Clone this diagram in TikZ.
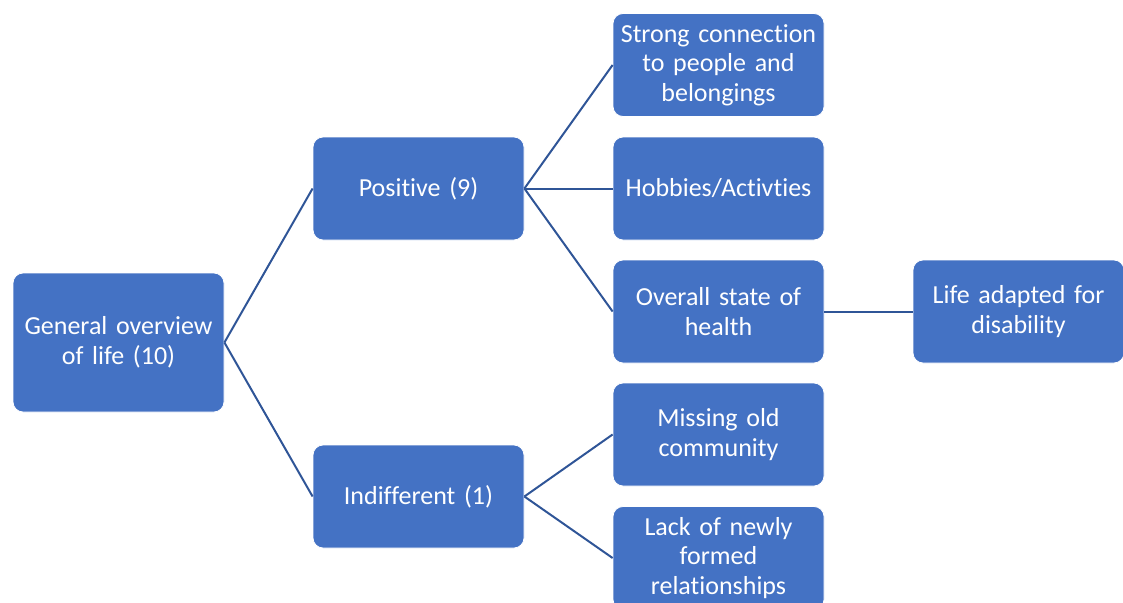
\documentclass[tikz,border=0pt]{standalone}
\usepackage{fontspec}
\setmainfont[Ligatures=NoCommon]{Carlito}
\definecolor{boxblue}{HTML}{4472C4}
\definecolor{lineblue}{HTML}{2F5597}
\begin{document}
\begin{tikzpicture}[x=1pt,y=-1pt,
  box/.style={rectangle, rounded corners=10pt, fill=boxblue, draw=white, line width=0.8pt,
    minimum width=211pt, minimum height=103pt, text width=207pt, align=center,
    text=white, inner sep=0pt, font=\fontsize{26}{29.5}\selectfont},
  link/.style={draw=lineblue, line width=2pt}]
\useasboundingbox (0,0) rectangle (1123,602);
\clip (0,0) rectangle (1123,602);
\node[box, minimum height=139pt] (gen) at (118.5,342.5) {General overview\\of life (10)};
\node[box] (pos) at (418.5,188.5) {Positive (9)};
\node[box] (ind) at (418.5,496.5) {Indifferent (1)};
\node[box] (str) at (718.5,65) {Strong connection\\to people and\\belongings};
\node[box] (hob) at (718.5,188.5) {Hobbies/Activties};
\node[box] (ovr) at (718.5,311.5) {Overall state of\\health};
\node[box] (mis) at (718.5,434.5) {Missing old\\community};
\node[box] (lack) at (718.5,558) {Lack of newly\\formed\\relationships};
\node[box] (life) at (1018.5,311.5) {Life adapted for\\disability};
\draw[link] (gen.east) -- (pos.west);
\draw[link] (gen.east) -- (ind.west);
\draw[link] (pos.east) -- (str.west);
\draw[link] (pos.east) -- (hob.west);
\draw[link] (pos.east) -- (ovr.west);
\draw[link] (ind.east) -- (mis.west);
\draw[link] (ind.east) -- (lack.west);
\draw[link] (ovr.east) -- (life.west);
\end{tikzpicture}
\end{document}
